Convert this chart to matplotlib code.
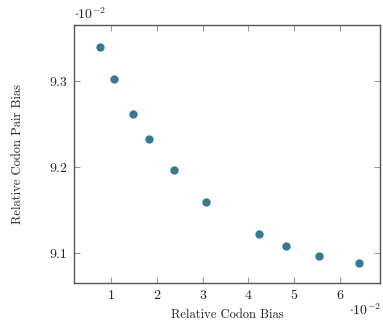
import matplotlib
matplotlib.use("Agg")
import matplotlib.pyplot as plt

# values as shown on the axes (both scaled by 10^-2)
codon_bias = [0.76, 1.065, 1.48, 1.83, 2.38, 3.07, 4.24, 4.82, 5.55, 6.41]
codon_pair_bias = [9.3395, 9.3022, 9.2613, 9.2326, 9.1968, 9.1600, 9.1221, 9.1086, 9.0970, 9.0891]

x_ticks = [1, 2, 3, 4, 5, 6]
y_ticks = [9.1, 9.2, 9.3]

plt.rcParams["font.family"] = "cmr10"
plt.rcParams["mathtext.fontset"] = "cm"
plt.rcParams["axes.formatter.use_mathtext"] = True

fig = plt.figure(figsize=(3.83, 3.21), dpi=100)
ax = fig.add_axes([0.193, 0.117, 0.799, 0.805])

ax.plot(codon_bias, codon_pair_bias, linestyle="none", marker="o",
		markersize=6, color="#367a91", markeredgewidth=0)

ax.set_xlim(0.19, 6.87)
ax.set_ylim(9.065, 9.365)
ax.set_xticks(x_ticks)
ax.set_xticklabels([str(t) for t in x_ticks])
ax.set_yticks(y_ticks)
ax.set_yticklabels(["%.1f" % t for t in y_ticks])

for s in ax.spines.values():
	s.set_color("#555555")
	s.set_linewidth(1.0)
ax.tick_params(direction="in", length=4, width=0.8, color="#999999",
			   top=True, right=True, labelsize=10, pad=5, labelcolor="#222222")

ax.set_xlabel("Relative Codon Bias", fontsize=9, color="#222222")
ax.xaxis.set_label_coords(0.5, -0.097)
ax.set_ylabel("Relative Codon Pair Bias", fontsize=9, color="#222222")
ax.yaxis.set_label_coords(-0.163, 0.5)

ax.text(0.0, 1.01, r"$\cdot 10^{-2}$", transform=ax.transAxes,
		fontsize=10, ha="left", va="bottom", color="#222222")
ax.text(1.005, -0.075, r"$\cdot 10^{-2}$", transform=ax.transAxes,
		fontsize=10, ha="right", va="top", color="#222222")

fig.savefig("out.png", dpi=100)
